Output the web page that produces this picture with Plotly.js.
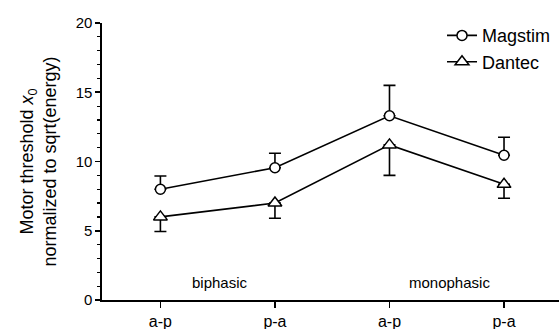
<!DOCTYPE html>
<html><head><meta charset="utf-8">
<script src="https://cdn.plot.ly/plotly-3.0.1.min.js"></script>
<style>body{margin:0;background:#fff}#c{width:559px;height:329px}</style>
</head><body><div id="c"></div>
<script>
const positions = [0, 1, 2, 3];
const tickLabels = ['a-p', 'p-a', 'a-p', 'p-a'];
const magstim = [8.0, 9.55, 13.3, 10.45];
const magstimErr = [0.95, 1.05, 2.2, 1.3];
const dantec = [6.0, 7.0, 11.2, 8.35];
const dantecErr = [1.05, 1.1, 2.2, 1.0];
const groupLabels = ['biphasic', 'monophasic'];
const groupPos = [0.52, 2.52];
const zeros = [0, 0, 0, 0];

const fnt = 'Liberation Sans, Arial, sans-serif';
const traces = [
  {x: positions, y: magstim, name: 'Magstim', type: 'scatter', mode: 'lines+markers',
   line: {color: '#000', width: 1.6},
   marker: {symbol: 'circle', size: 10, color: '#fff', line: {color: '#000', width: 1.5}},
   error_y: {type: 'data', symmetric: false, array: magstimErr, arrayminus: zeros,
             color: '#000', thickness: 1.6, width: 6}},
  {x: positions, y: dantec, name: 'Dantec', type: 'scatter', mode: 'lines+markers',
   line: {color: '#000', width: 1.6},
   marker: {symbol: 'triangle-up', size: 12, color: '#fff', line: {color: '#000', width: 1.5}},
   error_y: {type: 'data', symmetric: false, array: zeros, arrayminus: dantecErr,
             color: '#000', thickness: 1.6, width: 6}}
];
const layout = {
  width: 559, height: 329,
  margin: {l: 102, r: 0, t: 23, b: 29},
  paper_bgcolor: '#fff', plot_bgcolor: '#fff',
  font: {family: fnt, color: '#000', size: 14},
  showlegend: true,
  legend: {x: 0.744, y: 1.021, xanchor: 'left', yanchor: 'top', font: {size: 18, family: fnt},
           bgcolor: 'rgba(0,0,0,0)', tracegroupgap: 0},
  xaxis: {range: [-0.51, 3.48], tickvals: positions, ticktext: tickLabels,
          showline: true, linecolor: '#000', linewidth: 1.6, ticks: 'outside', ticklen: 6,
          tickwidth: 1.6, tickcolor: '#000', showgrid: false, zeroline: false,
          tickfont: {size: 16}},
  yaxis: {range: [0, 20], tickvals: [0, 5, 10, 15, 20],
          showline: true, linecolor: '#000', linewidth: 1.6, ticks: 'outside', ticklen: 5,
          tickwidth: 1.6, tickcolor: '#000', showgrid: false, zeroline: false,
          tickfont: {size: 15},
          minor: {dtick: 1, ticks: 'outside', ticklen: 3, tickcolor: '#000', tickwidth: 1.2, showgrid: false},
          title: {text: 'Motor threshold <i>x</i><sub>0</sub><br>normalized to sqrt(energy)',
                  font: {size: 18}, standoff: 14}},
  annotations: groupLabels.map((t, i) => ({x: groupPos[i], y: 1.3, xref: 'x', yref: 'y',
     text: t, showarrow: false, font: {size: 15}}))
};
Plotly.newPlot('c', traces, layout, {displayModeBar: false, staticPlot: true});
</script></body></html>
